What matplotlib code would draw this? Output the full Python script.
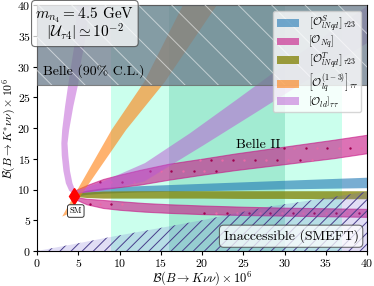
import matplotlib
matplotlib.use("Agg")
import matplotlib.pyplot as plt
from matplotlib.patches import Patch

plt.rcParams['font.family'] = 'serif'
plt.rcParams['font.serif'] = ['cmr10']
plt.rcParams['mathtext.fontset'] = 'cm'
plt.rcParams['axes.formatter.use_mathtext'] = True
plt.rcParams['hatch.linewidth'] = 0.7

# --- values ---
sm_point = (4.5, 9.0)
belle_limit = 27.0
belle2_outer = (9.0, 37.0)
belle2_inner = (16.0, 30.0)

smeft_x = [0, 4, 9, 16, 20, 28, 36, 40]
smeft_y = [0, 1.0, 2.3, 4.0, 5.0, 7.2, 8.8, 9.65]

# scalar operator (blue) and tensor operator (olive)
bt_x = [4.5, 6, 8, 12, 16, 20, 25, 30, 35, 40]
blue_hi = [9.3, 9.9, 10.3, 10.6, 10.8, 11.0, 11.25, 11.5, 11.75, 12.0]
blue_lo = [8.9, 9.2, 9.4, 9.6, 9.7, 9.8, 9.95, 10.1, 10.2, 10.3]
olive_hi = [9.3, 9.6, 9.75, 9.8, 9.8, 9.8, 9.8, 9.8, 9.8, 9.8]
olive_lo = [8.9, 8.7, 8.6, 8.6, 8.6, 8.6, 8.55, 8.55, 8.5, 8.5]

# O_Nq (pink), two branches leaving the SM point
nq_up_x = [4.5, 6, 8, 10, 12.5, 16, 20, 24, 28, 32, 36, 40]
nq_up_hi = [9.8, 10.7, 11.7, 12.4, 13.2, 14.2, 15.0, 15.85, 16.6, 17.35, 18.1, 18.9]
nq_up_lo = [9.4, 9.7, 10.1, 10.4, 10.8, 11.6, 12.4, 13.15, 13.8, 14.45, 15.1, 15.9]
nq_dn_x = [4.5, 6, 8, 10, 13, 16, 20, 25, 30, 35, 40]
nq_dn_hi = [8.8, 8.5, 8.3, 8.1, 7.8, 7.6, 7.4, 7.2, 7.05, 6.95, 6.85]
nq_dn_lo = [8.5, 7.6, 7.0, 6.7, 6.4, 6.2, 6.0, 5.85, 5.75, 5.65, 5.55]
nq_dots_x = [7.6, 9.0, 10.3, 11.7,
             13.7, 15.0, 16.3, 17.7, 19.0, 20.3, 21.7,
             19.8, 21.1, 22.4, 23.8, 25.1, 26.4, 27.8, 29.1, 30.4, 31.9, 33.3,
             29.9, 31.2, 32.6, 33.9, 35.2, 36.6, 37.9, 39.3,
             6.4, 7.6, 9.0, 10.3,
             20.3, 21.7, 23.0, 24.3, 25.7, 27.0, 28.3, 29.7, 31.0, 32.3, 33.6,
             35.0, 36.3, 37.6, 39.0]
nq_dots_y = [11.2] * 4 + [13.0] * 7 + [14.8] * 11 + [16.7] * 8 + [7.7] * 4 + [6.2] * 15

# O_lq^(1-3) (orange)
lq_x = [3.05, 9.05, 13.0, 17.7, 21.8, 15.5, 10.8, 3.75]
lq_y = [5.6, 19.7, 27.5, 40.0, 40.0, 27.5, 19.7, 6.0]

# O_ld (purple): steep left branch and wide right branch
ld_left_x = [4.4, 3.9, 3.5, 3.2, 3.0, 2.95, 3.05, 3.4, 3.8, 4.3, 4.6, 4.8,
             6.4, 5.8, 5.3, 5.0, 4.4, 3.9, 3.7, 3.8, 4.0, 4.3, 4.6]
ld_left_y = [9.3, 9.8, 11.0, 13.0, 15.5, 17.5, 19.7, 23.5, 27.2, 31.5, 34.0, 40.0,
             40.0, 34.0, 30.5, 27.2, 23.5, 19.7, 17.5, 15.5, 13.0, 11.0, 10.0]
ld_right_x = [4.5, 8, 13.1, 18.5, 24.2, 30, 35, 40,
              40, 33, 27, 20.2, 13, 8, 4.6]
ld_right_y = [9.7, 11.3, 14.3, 19.1, 24.6, 30.3, 35.1, 39.8,
              33.8, 28.0, 22.9, 17.2, 11.3, 9.8, 9.3]

labels = [r'$\left[\mathcal{O}^{S}_{lNqd}\right]_{\tau 23}$',
          r'$\left[\mathcal{O}_{Nq}\right]$',
          r'$\left[\mathcal{O}^{T}_{lNqd}\right]_{\tau 23}$',
          r'$\left[\mathcal{O}^{(1-3)}_{lq}\right]_{\tau\tau}$',
          r'$\left[\mathcal{O}_{ld}\right]_{\tau\tau}$']
colors = ['tab:blue', 'mediumvioletred', 'olive', 'tab:orange', 'mediumorchid']
alphas = [0.6, 0.6, 0.75, 0.6, 0.5]

fig = plt.figure(figsize=(3.74, 2.86), dpi=100)
ax = fig.add_axes([37 / 374, 35 / 286, 330 / 374, 246 / 286])

# Belle II bands
ax.axvspan(*belle2_outer, color='aquamarine', alpha=0.4, lw=0, zorder=0.5)
ax.axvspan(*belle2_inner, color='mediumaquamarine', alpha=0.4, lw=0, zorder=0.6)

# operator bands
ax.fill_between(bt_x, blue_lo, blue_hi, color=colors[0], alpha=alphas[0], lw=0, zorder=2)
for xx, lo, hi in [(nq_up_x, nq_up_lo, nq_up_hi), (nq_dn_x, nq_dn_lo, nq_dn_hi)]:
    ax.fill_between(xx, lo, hi, facecolor=colors[1], alpha=alphas[1],
                    edgecolor='mediumvioletred', lw=0.8, zorder=2.1)
ax.scatter(nq_dots_x[::2], nq_dots_y[::2], s=3, color='#a0004f', lw=0, zorder=2.2)
ax.scatter(nq_dots_x[1::2], nq_dots_y[1::2], s=3, color='#e86aa8', lw=0, zorder=2.2)
ax.fill_between(bt_x, olive_lo, olive_hi, color=colors[2], alpha=alphas[2], lw=0, zorder=2.3)
ax.fill(lq_x, lq_y, color=colors[3], alpha=alphas[3], lw=0, zorder=2.4)
ax.fill(ld_left_x, ld_left_y, color=colors[4], alpha=alphas[4], lw=0, zorder=2.5)
ax.fill(ld_right_x, ld_right_y, color=colors[4], alpha=alphas[4], lw=0, zorder=2.5)

# inaccessible region (SMEFT)
ax.fill_between(smeft_x, 0, smeft_y, facecolor='slateblue', alpha=0.2, lw=0, zorder=3)
ax.fill_between(smeft_x, 0, smeft_y, facecolor='none', edgecolor='darkslateblue',
                hatch='///', lw=0, zorder=3.1)

# Belle exclusion
ax.axhspan(belle_limit, 40, facecolor='slategray', alpha=0.78, edgecolor='dimgray',
           lw=0.8, zorder=3.2)
ax.axhspan(belle_limit, 40, facecolor='none', edgecolor=(1, 1, 1, 0.55), hatch='\\',
           lw=0, zorder=3.3)

ax.plot(*sm_point, marker='d', color='red', ms=8, zorder=6)
ax.text(4.7, 6.5, 'SM', fontsize=6, ha='center', va='center', zorder=6,
        bbox=dict(boxstyle='round,pad=0.25', fc='white', ec='0.2', lw=0.7))

ax.text(0.75, 29.3, 'Belle (90% C.L.)', fontsize=10, va='center', zorder=6)
ax.text(24.1, 17.3, 'Belle II', fontsize=10, va='center', zorder=6)
ax.text(5.8, 36.9, '$m_{n_4} = 4.5$ GeV\n$|\\mathcal{U}_{\\tau 4}| \\simeq 10^{-2}$',
        fontsize=11, ha='center', va='center', zorder=6, linespacing=0.8,
        bbox=dict(boxstyle='round,pad=0.25', fc='white', alpha=0.75, ec='0.25', lw=0.8))
ax.text(30.8, 2.4, 'Inaccessible (SMEFT)', fontsize=10, ha='center', va='center', zorder=6,
        bbox=dict(boxstyle='round,pad=0.3', fc='white', alpha=0.75, ec='0.25', lw=0.8))

handles = [Patch(facecolor=c, alpha=a, edgecolor='none') for c, a in zip(colors, alphas)]
leg = ax.legend(handles, labels, loc='upper right', fontsize=8, handlelength=2.0,
                framealpha=0.8, borderaxespad=0.5, labelspacing=0.0, handletextpad=0.8,
                borderpad=0.3)
leg.set_zorder(7)

ax.set_xlim(0, 40)
ax.set_ylim(0, 40)
ax.set_xticks(range(0, 41, 5))
ax.set_yticks(range(0, 41, 5))
ax.tick_params(labelsize=8.5, pad=1.5, length=3)
ax.set_xlabel(r'$\mathcal{B}(B\to K\nu\nu)\times 10^{6}$', fontsize=9)
ax.set_ylabel(r'$\mathcal{B}(B\to K^{*}\nu\nu)\times 10^{6}$', fontsize=8.5)
ax.xaxis.set_label_coords(0.5, -0.072)
ax.yaxis.set_label_coords(-0.058, 0.5)

fig.savefig('out.png', dpi=100)
